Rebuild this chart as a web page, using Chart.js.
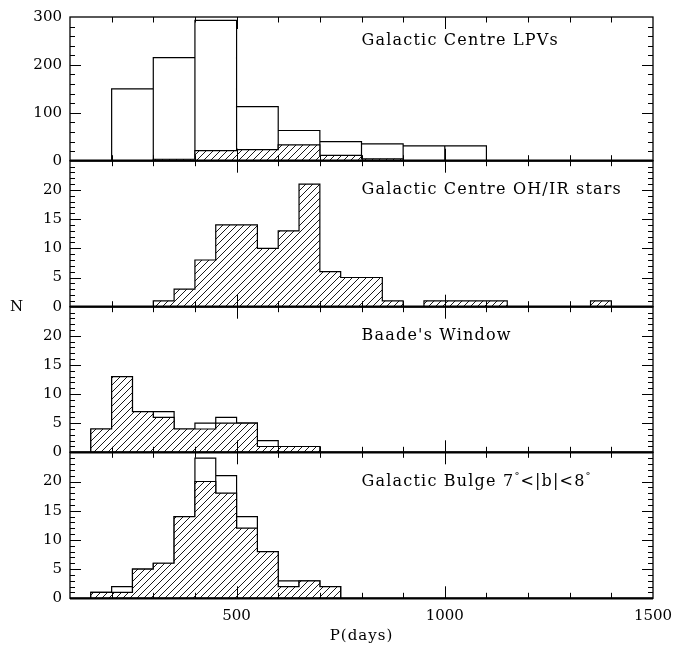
<!DOCTYPE html>
<html><head><meta charset="utf-8">
<script src="https://cdn.jsdelivr.net/npm/chart.js@4/dist/chart.umd.min.js"></script>
<style>
html,body{margin:0;padding:0;background:#fff;}
#wrap{position:relative;width:682px;height:647px;background:#fff;}
#wrap canvas{position:absolute;left:0;top:0;}
</style></head><body>
<div id="wrap">
<canvas id="p1" width="682" height="647"></canvas>
<canvas id="p2" width="682" height="647"></canvas>
<canvas id="p3" width="682" height="647"></canvas>
<canvas id="p4" width="682" height="647"></canvas>
</div>
<script>
// ---------- data ----------
const X_MIN = 100, X_MAX = 1500;
const xLabelValues = [500, 1000, 1500];
const xAxisTitle = 'P(days)';
const yAxisTitle = 'N';

// Panel 1: Galactic Centre LPVs
const lpvTitle = 'Galactic Centre LPVs';
const lpvBinStarts = [200, 300, 400, 500, 600, 700, 800, 900, 1000];
const lpvBinWidth = 100;
const lpvAll = [150, 215, 293, 113, 63, 40, 35, 31, 31];
const lpvHatched = [0, 3, 21, 23, 33, 11, 4, 0, 0];
const lpvYLabels = [0, 100, 200, 300];

// Panel 2: Galactic Centre OH/IR stars
const ohirTitle = 'Galactic Centre OH/IR stars';
const ohirBinStarts = [300, 350, 400, 450, 500, 550, 600, 650, 700, 750, 800, 850, 900, 950, 1000, 1050, 1100, 1150, 1200, 1250, 1300, 1350];
const ohirBinWidth = 50;
const ohirCounts = [1, 3, 8, 14, 14, 10, 13, 21, 6, 5, 5, 1, 0, 1, 1, 1, 1, 0, 0, 0, 0, 1];

// Panel 3: Baade's Window
const bwTitle = "Baade's Window";
const bwBinStarts = [150, 200, 250, 300, 350, 400, 450, 500, 550, 600, 650];
const bwBinWidth = 50;
const bwAll = [4, 13, 7, 7, 4, 5, 6, 5, 2, 1, 1];
const bwHatched = [4, 13, 7, 6, 4, 4, 5, 5, 1, 1, 1];

// Panel 4: Galactic Bulge 7°<|b|<8°
const bulgeTitle = 'Galactic Bulge 7°<|b|<8°';
const bulgeBinStarts = [150, 200, 250, 300, 350, 400, 450, 500, 550, 600, 650, 700];
const bulgeBinWidth = 50;
const bulgeAll = [1, 2, 5, 6, 14, 24, 21, 14, 8, 3, 3, 2];
const bulgeHatched = [1, 1, 5, 6, 14, 20, 18, 12, 8, 2, 3, 2];

const countYLabels = [0, 5, 10, 15, 20];

// ---------- helpers ----------
const FONT = '"DejaVu Serif", serif';
const FONT_SIZE = 15;

// step outline of a histogram (for hatched, filled series)
function stepPoints(starts, width, counts) {
  const pts = [{x: starts[0], y: 0}];
  counts.forEach((c, i) => pts.push({x: starts[i], y: c}));
  const end = starts[starts.length - 1] + width;
  pts.push({x: end, y: counts[counts.length - 1]});
  pts.push({x: end, y: 0});
  return pts;
}
// individual rectangles for each bin (open series)
function rectPoints(starts, width, counts) {
  const pts = [];
  counts.forEach((c, i) => {
    pts.push({x: starts[i], y: 0}, {x: starts[i], y: c}, {x: starts[i] + width, y: c}, {x: starts[i] + width, y: 0});
  });
  return pts;
}

function hatchPattern() {
  const s = 7;
  const c = document.createElement('canvas');
  c.width = s; c.height = s;
  const g = c.getContext('2d');
  g.fillStyle = '#fff';
  g.fillRect(0, 0, s, s);
  g.strokeStyle = '#000';
  g.lineWidth = 0.9;
  g.beginPath();
  for (const o of [-s, 0, s]) { g.moveTo(o, s); g.lineTo(o + s, 0); }
  g.stroke();
  return g.createPattern(c, 'repeat');
}

function openDs(pts) {
  return {data: pts, order: 2, stepped: false, borderColor: '#000', borderWidth: 1.2, fill: false, pointRadius: 0, tension: 0};
}
function hatchDs(pts) {
  return {data: pts, order: 1, stepped: true, borderColor: '#000', borderWidth: 1.2, fill: 'origin', backgroundColor: hatchPattern(), pointRadius: 0};
}

// draws text with degree signs as small raised superscripts
function drawTitle(ctx, text, x, y) {
  const big = '16px ' + FONT, small = '10px ' + FONT;
  let cx = x;
  for (const part of text.split(/(°)/)) {
    if (!part) continue;
    if (part === '°') {
      ctx.font = small;
      ctx.letterSpacing = '0px';
      ctx.fillText(part, cx, y - 5);
      cx += ctx.measureText(part).width + 1;
    } else {
      ctx.font = big;
      ctx.letterSpacing = '1.2px';
      ctx.fillText(part, cx, y);
      cx += ctx.measureText(part).width;
    }
  }
}

const framePlugin = {
  id: 'panelFrame',
  afterDatasetsDraw(chart, args, o) {
    const {ctx, chartArea: a} = chart;
    const xs = chart.scales.x, ys = chart.scales.y;
    ctx.save();
    ctx.strokeStyle = '#000';
    ctx.lineWidth = 1;
    ctx.beginPath();
    for (let v = X_MIN + 100; v < X_MAX; v += 100) {
      const px = Math.round(xs.getPixelForValue(v)) + 0.5;
      const len = v % 500 === 0 ? 12 : 5.5;
      ctx.moveTo(px, a.top); ctx.lineTo(px, a.top + len);
      ctx.moveTo(px, a.bottom); ctx.lineTo(px, a.bottom - len);
    }
    for (let v = o.yMinor; v < o.yMax; v += o.yMinor) {
      const py = Math.round(ys.getPixelForValue(v)) + 0.5;
      const len = v % o.yMajor === 0 ? 11 : 5;
      ctx.moveTo(a.left, py); ctx.lineTo(a.left + len, py);
      ctx.moveTo(a.right, py); ctx.lineTo(a.right - len, py);
    }
    ctx.stroke();
    ctx.lineWidth = 1.3;
    ctx.strokeRect(a.left, a.top, a.right - a.left, a.bottom - a.top);
    ctx.lineWidth = 2.2;
    ctx.beginPath();
    ctx.moveTo(a.left, a.bottom); ctx.lineTo(a.right, a.bottom);
    ctx.stroke();
    ctx.fillStyle = '#000';
    ctx.textAlign = 'left';
    ctx.textBaseline = 'middle';
    drawTitle(ctx, o.title, xs.getPixelForValue(o.titleX), ys.getPixelForValue(o.titleY));
    if (o.axisTitles) {
      ctx.font = FONT_SIZE + 'px ' + FONT;
      ctx.letterSpacing = '1px';
      ctx.textAlign = 'center';
      ctx.fillText(xAxisTitle, (a.left + a.right) / 2, 636);
      ctx.fillText(yAxisTitle, 17, 307);
    }
    ctx.restore();
  }
};

function makePanel(id, top, bottom, yMax, yMinor, yMajor, yLabels, datasets, title, titleY, isBottom) {
  const H = 647;
  new Chart(document.getElementById(id), {
    type: 'line',
    data: {datasets},
    options: {
      responsive: false,
      animation: false,
      events: [],
      layout: {padding: {left: 0, right: 29, top: top, bottom: 0}},
      plugins: {
        legend: {display: false},
        tooltip: {enabled: false},
        panelFrame: {yMax, yMinor, yMajor, title, titleX: 800, titleY, axisTitles: isBottom}
      },
      scales: {
        x: {
          type: 'linear', min: X_MIN, max: X_MAX,
          display: true,
          grid: {display: false, drawTicks: false},
          border: {display: false},
          afterBuildTicks: s => { s.ticks = xLabelValues.map(v => ({value: v})); },
          afterFit: s => { s.height = H - bottom; },
          ticks: {display: isBottom, padding: 9, maxRotation: 0, autoSkip: false, color: '#000',
                  font: {family: FONT, size: FONT_SIZE}, callback: v => String(v)}
        },
        y: {
          type: 'linear', min: 0, max: yMax,
          grid: {display: false, drawTicks: false},
          border: {display: false},
          afterBuildTicks: s => { s.ticks = yLabels.map(v => ({value: v})); },
          afterFit: s => { s.width = 70; },
          ticks: {padding: 8, color: '#000', font: {family: FONT, size: FONT_SIZE}, callback: v => String(v)}
        }
      }
    },
    plugins: [framePlugin]
  });
}

makePanel('p1', 15, 160.7, 300, 20, 100, lpvYLabels,
  [openDs(rectPoints(lpvBinStarts, lpvBinWidth, lpvAll)), hatchDs(stepPoints(lpvBinStarts, lpvBinWidth, lpvHatched))],
  lpvTitle, 250, false);
makePanel('p2', 160.7, 306.7, 25, 1, 5, countYLabels,
  [hatchDs(stepPoints(ohirBinStarts, ohirBinWidth, ohirCounts))],
  ohirTitle, 20, false);
makePanel('p3', 306.7, 452.3, 25, 1, 5, countYLabels,
  [openDs(rectPoints(bwBinStarts, bwBinWidth, bwAll)), hatchDs(stepPoints(bwBinStarts, bwBinWidth, bwHatched))],
  bwTitle, 20, false);
makePanel('p4', 452.3, 598.3, 25, 1, 5, countYLabels,
  [openDs(rectPoints(bulgeBinStarts, bulgeBinWidth, bulgeAll)), hatchDs(stepPoints(bulgeBinStarts, bulgeBinWidth, bulgeHatched))],
  bulgeTitle, 20, true);
</script>
</body></html>
